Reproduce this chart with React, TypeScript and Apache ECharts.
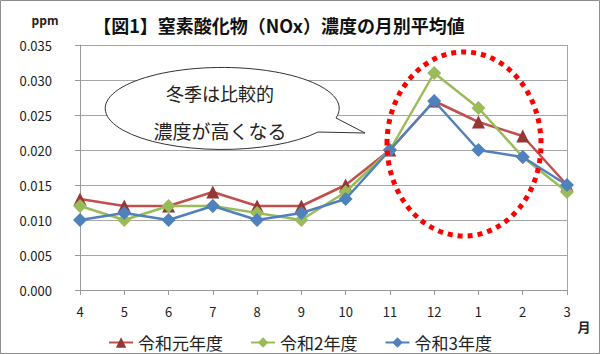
import React, { useEffect, useRef } from "react";
import * as echarts from "echarts";

const months = ["4", "5", "6", "7", "8", "9", "10", "11", "12", "1", "2", "3"];
const seriesNames = ["令和元年度", "令和2年度", "令和3年度"];
const r1 = [0.013, 0.012, 0.012, 0.014, 0.012, 0.012, 0.015, 0.020, 0.027, 0.024, 0.022, 0.015];
const r2 = [0.012, 0.010, 0.012, 0.012, 0.011, 0.010, 0.014, 0.020, 0.031, 0.026, 0.019, 0.014];
const r3 = [0.010, 0.011, 0.010, 0.012, 0.010, 0.011, 0.013, 0.020, 0.027, 0.020, 0.019, 0.015];
const titleText = "【図1】窒素酸化物（NOx）濃度の月別平均値";
const bubbleLines = ["冬季は比較的", "濃度が高くなる"];

const FONT = "'Noto Sans CJK JP', 'Noto Sans', sans-serif";

let registered = false;
function registerBubble() {
  if (registered) return;
  registered = true;
  const d = "M 336 118 L 365 133 L 318 132 A 117 41 0 1 1 336 118 Z";
  echarts.graphic.registerShape("bubble", echarts.graphic.extendPath(d, {}) as any);
}

export default function App() {
  const ref = useRef<HTMLDivElement>(null);
  useEffect(() => {
    if (!ref.current) return;
    registerBubble();
    const chart = echarts.init(ref.current, undefined, { renderer: "svg" });
    chart.setOption({
      animation: false,
      backgroundColor: "#ffffff",
      grid: { left: 80, right: 33, top: 45, bottom: 64 },
      legend: {
        top: 329,
        left: "center",
        itemGap: 27,
        itemWidth: 24,
        itemHeight: 13,
        textStyle: { fontSize: 17, color: "#222", fontFamily: FONT },
        data: seriesNames,
      },
      xAxis: {
        type: "category",
        data: months,
        boundaryGap: false,
        axisLine: { lineStyle: { color: "#999", width: 1 } },
        axisTick: { alignWithLabel: true, length: 5, lineStyle: { color: "#999" } },
        axisLabel: { fontSize: 13, color: "#222", margin: 15, fontFamily: FONT },
        splitLine: { show: false },
      },
      yAxis: {
        type: "value",
        min: 0,
        max: 0.035,
        interval: 0.005,
        axisLine: { show: true, lineStyle: { color: "#999" } },
        axisTick: { show: true, length: 5, lineStyle: { color: "#999" } },
        axisLabel: {
          fontSize: 13,
          color: "#222",
          margin: 28,
          fontFamily: FONT,
          formatter: (v: number) => v.toFixed(3),
        },
        splitLine: { lineStyle: { color: "#a6a6a6", width: 1 } },
      },
      series: [
        {
          name: seriesNames[0],
          type: "line",
          data: r1,
          symbol: "triangle",
          symbolSize: 13,
          lineStyle: { color: "#C0504D", width: 2.5 },
          itemStyle: { color: "#953735" },
          z: 2,
        },
        {
          name: seriesNames[1],
          type: "line",
          data: r2,
          symbol: "diamond",
          symbolSize: 14,
          lineStyle: { color: "#9BBB59", width: 2.5 },
          itemStyle: { color: "#9BBB59" },
          z: 3,
        },
        {
          name: seriesNames[2],
          type: "line",
          data: r3,
          symbol: "diamond",
          symbolSize: 14,
          lineStyle: { color: "#4F81BD", width: 2.5 },
          itemStyle: { color: "#4F81BD" },
          z: 4,
        },
      ],
      graphic: [
        {
          type: "rect",
          shape: { x: 0.5, y: 0.5, width: 599, height: 353 },
          style: { fill: "none", stroke: "#8c8c8c", lineWidth: 1 },
          z: 0,
        },
        {
          type: "line",
          shape: { x1: 567.5, y1: 45, x2: 567.5, y2: 290 },
          style: { stroke: "#a6a6a6", lineWidth: 1 },
          z: 1,
        },
        {
          type: "text",
          x: 279,
          y: 25,
          style: {
            text: titleText,
            fontSize: 18,
            fontWeight: "bold",
            fill: "#111",
            fontFamily: FONT,
            align: "center",
            verticalAlign: "middle",
          },
        },
        {
          type: "text",
          x: 45,
          y: 19,
          style: {
            text: "ppm",
            fontSize: 12,
            fontWeight: "bold",
            fill: "#222",
            fontFamily: FONT,
            align: "center",
            verticalAlign: "middle",
          },
        },
        {
          type: "text",
          x: 584,
          y: 326,
          style: {
            text: "月",
            fontSize: 13,
            fontWeight: "bold",
            fill: "#222",
            fontFamily: FONT,
            align: "center",
            verticalAlign: "middle",
          },
        },
        {
          type: "bubble",
          x: 0,
          y: 0,
          style: { fill: "#ffffff", stroke: "#333", lineWidth: 1 },
          z: 10,
        },
        {
          type: "text",
          x: 220,
          y: 93,
          style: {
            text: bubbleLines[0],
            fontSize: 18,
            fill: "#222",
            fontFamily: FONT,
            align: "center",
            verticalAlign: "middle",
          },
          z: 11,
        },
        {
          type: "text",
          x: 220,
          y: 130,
          style: {
            text: bubbleLines[1],
            fontSize: 19,
            fill: "#222",
            fontFamily: FONT,
            align: "center",
            verticalAlign: "middle",
          },
          z: 11,
        },
        {
          type: "ellipse",
          shape: { cx: 464, cy: 144, rx: 77, ry: 92 },
          style: { fill: "none", stroke: "#ff0000", lineWidth: 5, lineDash: [5, 5] },
          z: 12,
        },
      ],
    });
    return () => chart.dispose();
  }, []);
  return (
    <div
      ref={ref}
      style={{ position: "fixed", left: 0, top: 0, width: 600, height: 354 }}
    />
  );
}
